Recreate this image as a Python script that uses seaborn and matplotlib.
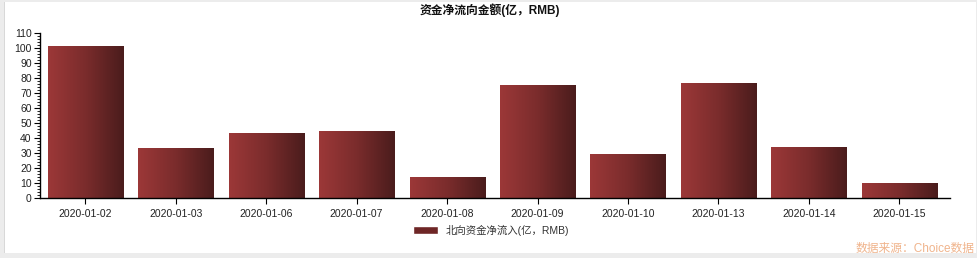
import numpy as np
import pandas as pd
import matplotlib
matplotlib.use("Agg")
import matplotlib.pyplot as plt
import seaborn as sns
from matplotlib.patches import Rectangle
from matplotlib.ticker import MultipleLocator
from matplotlib.colors import LinearSegmentedColormap

dates = ["2020-01-02", "2020-01-03", "2020-01-06", "2020-01-07", "2020-01-08",
         "2020-01-09", "2020-01-10", "2020-01-13", "2020-01-14", "2020-01-15"]
values = [101.2, 33.4, 43.4, 44.7, 14.1, 75.3, 29.4, 76.6, 34.1, 10.2]
series_name = "北向资金净流入(亿，RMB)"
title = "资金净流向金额(亿，RMB)"
source = "数据来源：Choice数据"
yticks = list(range(0, 111, 10))

sns.set_style("white")
plt.rcParams['font.family'] = ['Liberation Sans', 'Noto Sans CJK SC', 'DejaVu Sans']

W, H = 977, 258
fig = plt.figure(figsize=(W / 100, H / 100), dpi=100)
fig.patch.set_facecolor("#ececec")
# white panel
fig.add_artist(Rectangle((5 / W, 5 / H), (W - 6) / W, (H - 7) / H,
                         transform=fig.transFigure, facecolor="white",
                         edgecolor="none", zorder=-10))
fig.add_artist(Rectangle((4 / W, 5 / H), 1 / W, (H - 7) / H,
                         transform=fig.transFigure, facecolor="#d8d8d8",
                         edgecolor="none", zorder=-10))

ax_left, ax_right = 40, 950
ax_bottom, ax_top = 198.3, 32.7
ax = fig.add_axes([ax_left / W, 1 - ax_bottom / H, (ax_right - ax_left) / W,
                   (ax_bottom - ax_top) / H])
ax.set_facecolor("none")
ax.set_zorder(1)

df = pd.DataFrame({"date": dates, "value": values})
sns.barplot(data=df, x="date", y="value", ax=ax, width=0.83,
            color="#7a2a2a", saturation=1, edgecolor="none")

cmap = LinearSegmentedColormap.from_list("g", ["#9c3838", "#7a2c2c", "#4a1c1c"])
grad = np.linspace(0, 1, 256).reshape(1, -1)
for p in list(ax.patches):
    x0, y0 = p.get_x(), p.get_y()
    w, h = p.get_width(), p.get_height()
    im = ax.imshow(grad, cmap=cmap, aspect="auto",
                   extent=(x0, x0 + w, y0, y0 + h), zorder=2)
    im.set_clip_path(p)
    p.set_facecolor("none")

n = len(dates)
ax.set_xlim(-0.5, n - 0.5 + 0.06)
ax.set_ylim(0, 110)
ax.set_yticks(yticks)
ax.yaxis.set_minor_locator(MultipleLocator(2))
ax.set_xlabel("")
ax.set_ylabel("")
for s in ["top", "right"]:
    ax.spines[s].set_visible(False)
ax.spines["left"].set_color("#000000")
ax.spines["bottom"].set_color("#000000")
ax.spines["left"].set_linewidth(1)
ax.spines["bottom"].set_linewidth(1)
ax.tick_params(axis="y", which="major", direction="out", length=4, width=0.8,
               labelsize=7.5, pad=2, left=True, colors="#000000")
ax.tick_params(axis="y", which="minor", direction="out", length=2, width=0.6,
               left=True, colors="#000000")
ax.tick_params(axis="x", which="major", direction="out", length=4, width=0.8,
               labelsize=7.5, pad=4, bottom=True, colors="#000000")
for lab in ax.get_xticklabels() + ax.get_yticklabels():
    lab.set_color("#222222")

fig.text(490 / W, 1 - 10 / H, title, ha="center", va="center",
         fontsize=8.5, fontweight="bold", color="#111111")

# legend
lh = ax.legend(handles=[Rectangle((0, 0), 1, 1, facecolor="#6e2626")],
               labels=[series_name], loc="center",
               bbox_to_anchor=((491) / W, 1 - 230 / H),
               bbox_transform=fig.transFigure, frameon=False, fontsize=7.5,
               handlelength=2.4, handleheight=0.9, handletextpad=0.7)
for t in lh.get_texts():
    t.set_color("#333333")

fig.text(975 / W, 1 - 249 / H, source, ha="right", va="center",
         fontsize=8.5, color="#f0b48c")

fig.savefig("out.png", dpi=100, facecolor=fig.get_facecolor())
